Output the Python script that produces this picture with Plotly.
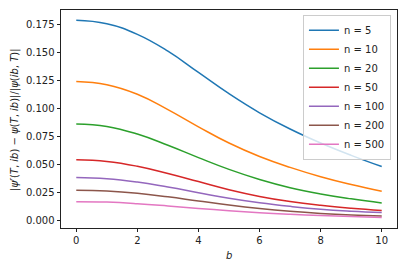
import plotly.graph_objects as go

b_values = [0, 1, 2, 3, 4, 5, 6, 7, 8, 9, 10]
series_labels = ["n = 5", "n = 10", "n = 20", "n = 50", "n = 100", "n = 200", "n = 500"]
n5 = [0.1790, 0.1759, 0.1665, 0.1515, 0.1325, 0.1135, 0.0965, 0.0820, 0.0695, 0.0585, 0.0485]
n10 = [0.1244, 0.1215, 0.1130, 0.0993, 0.0840, 0.0695, 0.0575, 0.0478, 0.0395, 0.0325, 0.0264]
n20 = [0.0866, 0.0843, 0.0775, 0.0675, 0.0565, 0.0460, 0.0370, 0.0297, 0.0241, 0.0197, 0.0160]
n50 = [0.0545, 0.0531, 0.0488, 0.0423, 0.0351, 0.0279, 0.0219, 0.0173, 0.0139, 0.0113, 0.0093]
n100 = [0.0387, 0.0377, 0.0347, 0.0302, 0.0252, 0.0202, 0.0162, 0.0130, 0.0104, 0.0087, 0.0075]
n200 = [0.0274, 0.0267, 0.0247, 0.0215, 0.0178, 0.0142, 0.0111, 0.0086, 0.0067, 0.0053, 0.0043]
n500 = [0.0172, 0.0168, 0.0154, 0.0134, 0.0112, 0.0091, 0.0073, 0.0059, 0.0048, 0.0039, 0.0031]
series_values = [n5, n10, n20, n50, n100, n200, n500]
colors = ["#1f77b4", "#ff7f0e", "#2ca02c", "#d62728", "#9467bd", "#8c564b", "#e377c2"]

y_ticks = [0.0, 0.025, 0.05, 0.075, 0.1, 0.125, 0.15, 0.175]
y_tick_labels = ["0.000", "0.025", "0.050", "0.075", "0.100", "0.125", "0.150", "0.175"]
x_ticks = [0, 2, 4, 6, 8, 10]

fig = go.Figure()
for label, vals, col in zip(series_labels, series_values, colors):
    fig.add_trace(go.Scatter(x=b_values, y=vals, mode="lines", name=label,
                             line=dict(color=col, width=1.5, shape="spline", smoothing=1.3)))

font_family = "DejaVu Sans"
text_color = "#222"
fig.update_layout(
    width=398, height=260,
    margin=dict(l=53, r=9, t=2, b=40),
    paper_bgcolor="white", plot_bgcolor="white",
    font=dict(family=font_family, size=10, color=text_color),
    showlegend=True,
    legend=dict(x=0.982, y=0.978, xanchor="right", yanchor="top",
                bgcolor="rgba(255,255,255,0.8)", bordercolor="#cccccc", borderwidth=1,
                font=dict(size=10, family=font_family, color=text_color),
                itemwidth=30, tracegroupgap=0),
    xaxis=dict(range=[-0.5, 10.5], tickvals=x_ticks, ticks="outside", ticklen=3.5,
               tickwidth=0.8, tickcolor=text_color, showline=True, linecolor=text_color,
               linewidth=0.8, mirror=True, showgrid=False, zeroline=False,
               tickfont=dict(size=10, family=font_family, color=text_color)),
    yaxis=dict(range=[-0.0063, 0.1882], tickvals=y_ticks, ticktext=y_tick_labels,
               ticks="outside", ticklen=3.5, tickwidth=0.8, tickcolor=text_color,
               showline=True, linecolor=text_color, linewidth=0.8, mirror=True,
               showgrid=False, zeroline=False,
               tickfont=dict(size=10, family=font_family, color=text_color)),
    annotations=[
        dict(text="<i>b</i>", xref="paper", yref="paper", x=0.5, y=-0.124,
             xanchor="center", yanchor="middle", showarrow=False,
             font=dict(size=10, family=font_family, color=text_color)),
        dict(text="|<i>ψ<sup>r</sup></i>(<i>T</i>, <i>ib</i>) − <i>ψ</i>(<i>T</i>, <i>ib</i>)|/|<i>ψ</i>(<i>ib</i>, <i>T</i>)|",
             xref="paper", yref="paper", x=-0.14, y=0.5, textangle=-90,
             xanchor="center", yanchor="middle", showarrow=False,
             font=dict(size=10, family=font_family, color=text_color)),
    ],
)

fig.write_html("out.html")
